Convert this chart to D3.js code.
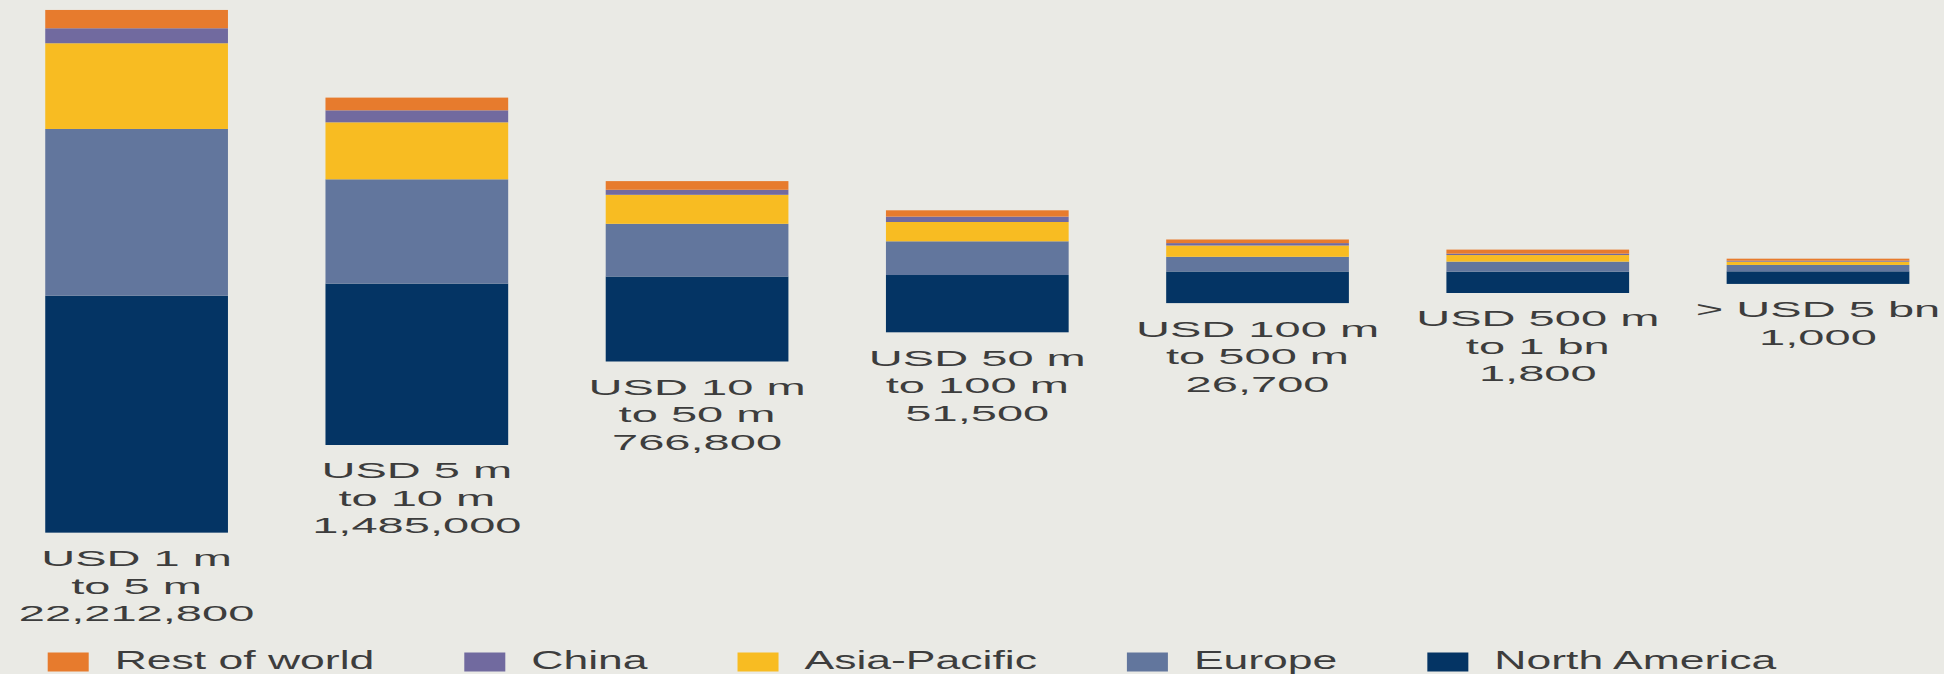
<!DOCTYPE html>
<html>
<head>
<meta charset="utf-8">
<script src="https://cdn.jsdelivr.net/npm/d3@7/dist/d3.min.js"></script>
<style>
  html, body { margin: 0; padding: 0; background: #EAEAE5; }
  svg { display: block; }
  text { font-family: "Liberation Sans", Arial, Helvetica, sans-serif; fill: #3d3d3d; }
</style>
</head>
<body>
<svg id="chart" width="1944" height="674"></svg>
<script>
// Wealth bands (two label lines each) and the number of individuals in each band
const bandLines = [
  ["USD 1 m", "to 5 m"],
  ["USD 5 m", "to 10 m"],
  ["USD 10 m", "to 50 m"],
  ["USD 50 m", "to 100 m"],
  ["USD 100 m", "to 500 m"],
  ["USD 500 m", "to 1 bn"],
  ["> USD 5 bn"]
];
const bandCounts = [22212800, 1485000, 766800, 51500, 26700, 1800, 1000];

// Regional composition of each band (relative size index, largest band = 100)
const northAmerica = [45.34, 30.88, 16.26, 10.96, 6.05, 4.09, 2.41];
const europe       = [31.89, 19.95, 10.08, 6.45, 2.81, 1.91, 1.22];
const asiaPacific  = [16.40, 10.90, 5.55, 3.69, 2.16, 1.26, 0.63];
const china        = [2.87, 2.30, 0.96, 1.03, 0.46, 0.27, 0.19];
const restOfWorld  = [3.50, 2.43, 1.66, 1.21, 0.69, 0.77, 0.38];

const seriesKeys   = ["North America", "Europe", "Asia-Pacific", "China", "Rest of world"];
const seriesColors = ["#043464", "#62769D", "#F8BC22", "#716A9F", "#E77B2D"];
const legendOrder  = ["Rest of world", "China", "Asia-Pacific", "Europe", "North America"];

const seriesValues = [northAmerica, europe, asiaPacific, china, restOfWorld];
const rows = bandCounts.map((c, i) => {
  const r = { band: i };
  seriesKeys.forEach((k, j) => { r[k] = seriesValues[j][i]; });
  r.total = d3.sum(seriesValues, s => s[i]);
  return r;
});

const svg = d3.select("#chart");

// Layout
const midY = 271.3;          // bars are centred on a common horizontal line
const stretch = 2.2;         // wide lettering of the band labels
const legendStretch = 1.78;

const x = d3.scalePoint()
  .domain(rows.map(r => r.band))
  .range([136.6, 1818]);
const barW = x.step() * 0.652;

const h = d3.scaleLinear().domain([0, 100]).range([0, 522.7]);

const color = d3.scaleOrdinal().domain(seriesKeys).range(seriesColors);

const stacked = d3.stack().keys(seriesKeys)(rows);

const bars = svg.append("g");
stacked.forEach(layer => {
  bars.selectAll(null)
    .data(layer)
    .join("rect")
    .attr("x", d => x(d.data.band) - barW / 2)
    .attr("y", d => midY + h(d.data.total) / 2 - h(d[1]))
    .attr("width", barW)
    .attr("height", d => h(d[1]) - h(d[0]))
    .attr("fill", color(layer.key));
});

// Band labels under each bar
const fmt = d3.format(",");
const labels = svg.append("g");
rows.forEach((r, i) => {
  const lines = bandLines[i].concat([fmt(bandCounts[i])]);
  const base = midY + h(r.total) / 2 + 33.5;
  lines.forEach((t, k) => {
    labels.append("text")
      .attr("transform", `translate(${x(r.band)},${base + k * 27.5}) scale(${stretch},1)`)
      .attr("text-anchor", "middle")
      .attr("font-size", 21.4)
      .text(t);
  });
});

// Legend
const legend = svg.append("g");
let lx = 47.7;
legendOrder.forEach(k => {
  legend.append("rect")
    .attr("x", lx).attr("y", 652.5)
    .attr("width", 41).attr("height", 19)
    .attr("fill", color(k));
  const t = legend.append("text")
    .attr("transform", `translate(${lx + 67},${668.6}) scale(${legendStretch},1)`)
    .attr("font-size", 25)
    .text(k);
  const tw = t.node().getComputedTextLength() * legendStretch;
  lx += 67 + tw + 90;
});
</script>
</body>
</html>
